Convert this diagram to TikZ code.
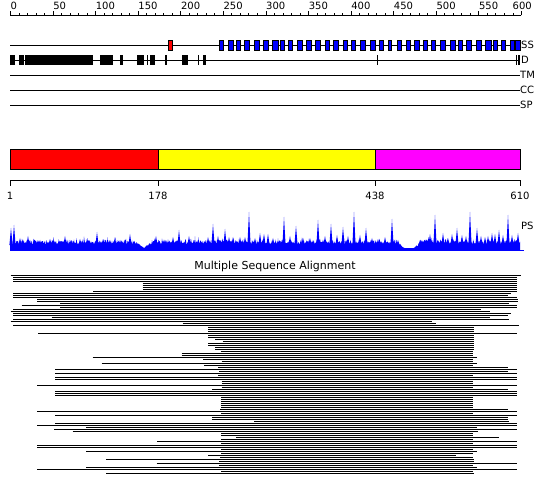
\documentclass[tikz,border=0pt]{standalone}
\usepackage{fontspec}
\setmainfont{DejaVu Sans}
\definecolor{ssblue}{RGB}{0,0,255}
\definecolor{ssred}{RGB}{255,0,0}
\definecolor{domred}{RGB}{255,0,0}
\definecolor{domyellow}{RGB}{255,255,0}
\definecolor{dommag}{RGB}{255,0,255}
\tikzset{
  trackline/.style={line width=1pt, black},
  ssbox/.style={draw=black, fill=ssblue, line width=0.8pt},
  helixbox/.style={draw=black, fill=ssred, line width=0.8pt},
  disbox/.style={fill=black},
  dombox/.style={draw=black, line width=1pt},
  lbl/.style={inner sep=0pt, font=\fontsize{10}{12}\selectfont},
  alnrow/.style={line width=1pt, black},
  psfill/.style={fill=ssblue},
}
\begin{document}
\begin{tikzpicture}[x=1pt,y=-1pt]
\useasboundingbox (0,0) rectangle (550,495);
% ---------- ruler ----------
\draw[line width=1pt] (10,15.5) -- (521,15.5);
\foreach \v in {0,10,...,600}
  \draw[line width=1pt] ({10.5+\v*0.8517},15.5) -- ++(0,-2.5);
\foreach \v in {0,50,...,550} {
  \draw[line width=1pt] ({10.5+\v*0.8517},15.5) -- ++(0,-4.5);
  \node[lbl, anchor=base west] (r\v) at ({10.5+\v*0.8517},10) {\v};
}
\draw[line width=1pt] (521,15.5) -- ++(0,-4.5);
\node[lbl, anchor=base east] (r600) at (532,10) {600};
% ---------- tracks ----------
\draw[trackline] (10,45.5) -- (520,45.5);
\draw[trackline] (10,60.5) -- (520,60.5);
\draw[trackline] (10,75.5) -- (520,75.5);
\draw[trackline] (10,90.5) -- (520,90.5);
\draw[trackline] (10,105.5) -- (520,105.5);
\draw[helixbox] (168,40) rectangle (172,50);
\foreach \a/\b in {219.3/223.3, 228.3/233.3, 236.7/240.7, 244.3/249.3, 254.3/259.3,
  263.3/268.3, 272/278.3, 280/284.3, 288.3/292.3, 297.7/302.3, 306.7/311, 315/320,
  325/329, 333.3/338.3, 343.3/347.7, 351/355.7, 360/365, 370/375, 379/383.3,
  388.3/391.7, 397.7/401, 406/410, 414.3/419, 423.3/427.7, 431.7/435, 440.7/445,
  450/455, 458.3/462.3, 466.7/471.7, 476.7/481, 485/491, 493.3/497.7, 501.7/505.7,
  510/514.3, 515/520}
  \draw[ssbox] (\a,40) rectangle (\b,50);
\foreach \a/\b in {10/15, 19.3/24, 25/92.7, 100/112.7, 120/122.7, 136.7/144,
  146.7/148.3, 150/155, 165/166.7, 181.7/187.7, 197.7/199.3, 202.7/205.7,
  376.7/378.3, 516/517.3, 518.3/520}
  \fill[disbox] (\a,55) rectangle (\b,65);
\node[lbl, anchor=west] (tSS) at (521,45) {SS};
\node[lbl, anchor=west] (tD) at (521,60) {D};
\node[lbl, anchor=west] (tTM) at (520,75) {TM};
\node[lbl, anchor=west] (tCC) at (520,90) {CC};
\node[lbl, anchor=west] (tSP) at (520,105) {SP};
% ---------- domain bar ----------
\draw[dombox, fill=domred] (10,150) rectangle (158,170);
\draw[dombox, fill=domyellow] (158,150) rectangle (375,170);
\draw[dombox, fill=dommag] (375,150) rectangle (520,170);
\draw[line width=1pt] (10,180.5) -- (520,180.5);
\foreach \x/\t in {10/1, 158/178, 375/438, 520/610} {
  \draw[line width=1pt] (\x,180.5) -- (\x,186);
  \node[lbl, anchor=base] (d\t) at (\x,200) {\t};
}
% ---------- PS profile ----------
\pgfmathsetseed{11}
\fill[psfill] (10,250) \foreach \x in {10,10.5,...,520} {
  -- (\x,{244.5-(4*rnd+6*rnd*rnd*rnd)*(1-max(0,1-abs(\x-144)/9)-max(0,min(1,1.6-abs(\x-409)/8)))+3.5*max(0,1-abs(\x-144)/9)+3.5*max(0,min(1,1.6-abs(\x-409)/8))})
} -- (520,250) -- cycle;
\foreach \p/\h in {11/228, 14/225, 20/238, 28/236, 40/240, 50/239, 65/236, 80/239,
  97/232, 110/240, 120/240, 130/234, 156/236, 165/240, 173/237, 179/230, 189/236,
  198/240, 208/237, 213/224, 218/236, 225/229, 229/237, 233/237, 240/237, 245/237,
  249/212, 255/238, 260/233, 264/234, 268/234, 273/238, 284/217, 290/236, 296/226,
  303/238, 310/238, 318/220, 325/236, 331/224, 337/235, 343/227, 348/236, 354/212,
  360/235, 366/228, 372/238, 378/239, 385/237, 392/219, 398/240, 420/240, 430/234,
  435/215, 443/233, 448/238, 452/234, 457/228, 462/235, 466/236, 470/212, 477/228,
  481/236, 485/237, 488/236, 492/233, 495/234, 499/230, 503/235, 508/215, 512/235,
  518/233}
  \fill[psfill] (\p-1.6,245) -- (\p,\h) -- (\p+1.6,245) -- cycle;
\draw[ssblue, line width=1pt] (10,250.5) -- (524,250.5);
\node[lbl, anchor=west] (tPS) at (521,226) {PS};
% ---------- alignment ----------
\node[inner sep=0pt, font=\fontsize{11}{13}\selectfont] (title) at (275,266) {Multiple Sequence Alignment};
\foreach \a/\b [count=\i from 0] in {
  10.7/520.7, 13.3/517.3, 13.3/517.3, 13.3/517.3, 142.7/517.3, 142.7/517.3,
  142.7/517.3, 142.7/517.3, 93.3/517.3, 13.3/511, 13.3/508.3, 13.3/517.3,
  37.3/518, 37.3/518, 60/509, 21.7/517.3, 60/517.3, 13.3/480.7, 10.7/490,
  13.3/511, 13.3/508.3, 51.7/490, 13.3/509, 10.7/431.7, 182.7/435.7, 13.3/519,
  208.3/474.3, 208.3/474.3, 208.3/474.3, 38.3/517.3, 208.3/474.3, 208.3/474.3,
  215/474.3, 222.7/474.3, 208.3/474, 208.3/474.3, 215/474.3, 215/473.7,
  220.7/472.7, 181.7/472.7, 181.7/472.7, 92.7/476.7, 203.3/472.7, 221.7/472.7,
  101.7/476.7, 204/472.7, 218.3/508.3, 55/517.3, 219.3/508.3, 55/517.3,
  218.3/473.3, 55/517.3, 55/517.3, 221.7/472.7, 221.7/472.7, 37.3/517.3,
  221.7/472.7, 212.3/508.3, 55/517.3, 55/517.3, 55/517.3, 221/472.7, 221/472.7,
  221/472.7, 221/472.7, 221/472.7, 221/472.7, 220/508.3, 37.3/517.3, 221/472.7,
  55/517.3, 212.3/508.3, 212.3/508.3, 254/509.3, 55/517.3, 37.3/517.3,
  86/476.7, 54.3/517.3, 72.7/478.3, 221/472.7, 221/472.7, 236/499.3, 221/472.7,
  157.3/517.3, 221/472.7, 37.3/517.3, 37.3/517.3, 221/472.7, 86/476.7,
  221/472.7, 208.3/455.7, 220/472.7, 106/474.3, 219.3/474.3, 156.7/517.3,
  219.3/472.7, 86/476.7, 37.3/517.3, 221/472.7, 106/474.3}
  \draw[alnrow] (\a,{275.5+2*\i}) -- (\b,{275.5+2*\i});
\end{tikzpicture}
\end{document}
